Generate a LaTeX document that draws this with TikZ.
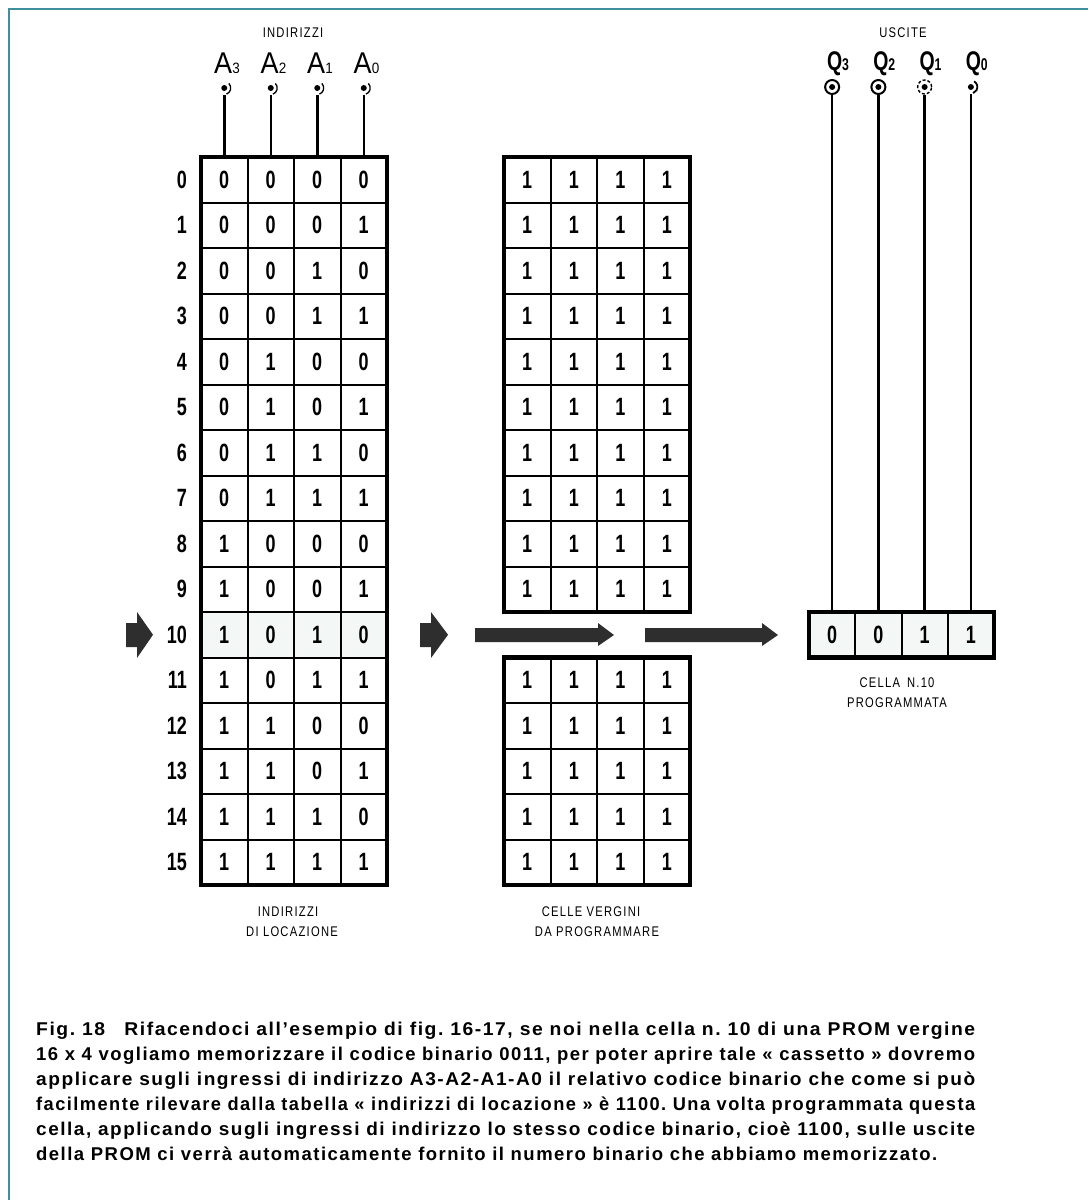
\documentclass[tikz,border=0pt]{standalone}
\usepackage{graphicx}
\usepackage{fontspec}
\setmainfont{Liberation Sans}
\newfontfamily\condfont[FakeStretch=0.72]{Liberation Sans}
\newfontfamily\afont[FakeStretch=0.9]{Liberation Sans}
\newfontfamily\thinfont[FakeStretch=0.8,LetterSpace=9]{Liberation Sans}
\newfontfamily\capfont[LetterSpace=8]{Liberation Sans}
\usetikzlibrary{calc}
\definecolor{framecol}{HTML}{3F8F9F}
\definecolor{arrowgray}{HTML}{2E2E2E}
\definecolor{tint}{HTML}{F3F8F6}
\newcommand{\capline}[1]{\resizebox{939pt}{\height}{#1}}
\begin{document}
\begin{tikzpicture}[x=1pt,y=-1pt,
  cell/.style={minimum width=46.5pt,minimum height=45.5pt,inner sep=0pt,
    font=\condfont\bfseries\fontsize{25}{25}\selectfont},
  rcell/.style={cell,minimum width=46.25pt},
  rowlab/.style={anchor=east,inner sep=0pt,font=\condfont\bfseries\fontsize{25}{25}\selectfont},
  thinlab/.style={align=center,inner sep=0pt,font=\thinfont\fontsize{14}{20}\selectfont},
  alab/.style={inner sep=0pt,font=\afont\fontsize{30}{30}\selectfont},
  qlab/.style={inner sep=0pt,font=\condfont\bfseries\fontsize{27}{27}\selectfont},
  grid/.style={line width=2pt},
  outer/.style={line width=4.5pt},
  wire/.style={line width=2.5pt},
  adot/.style={circle,fill,inner sep=0pt,minimum size=6pt},
  qterm/.style={circle,draw,line width=2pt,inner sep=0pt,minimum size=14pt},
  blk/.style={fill=arrowgray}
]
\useasboundingbox[fill=white] (0,0) rectangle (1088,1200);
\draw[framecol,line width=2pt] (9,1200) -- (9,9) -- (1088,9);

% ---------- left table (addresses) ----------
\fill[tint] (201,612) rectangle (387,657.5);
\foreach \r in {0,...,15}{
  \node[rowlab] (n\r) at (187,{179.75+45.5*\r}) {\r};
  \foreach \c in {0,...,3}{
    \pgfmathtruncatemacro\b{mod(floor(\r/2^(3-\c)),2)}
    \node[cell] (L-\r-\c) at ({224.25+46.5*\c},{179.75+45.5*\r}) {\b};
  }
}
\foreach \c in {1,2,3} \draw[grid] ({201+46.5*\c},157) -- ({201+46.5*\c},885);
\foreach \r in {1,...,15} \draw[grid] (201,{157+45.5*\r}) -- (387,{157+45.5*\r});
\draw[outer] (201,157) rectangle (387,885);

% ---------- middle table (blank cells) ----------
\foreach \r in {0,...,9,11,12,13,14,15}{
  \foreach \c in {0,...,3}{
    \node[cell] (M-\r-\c) at ({527.25+46.5*\c},{179.75+45.5*\r}) {1};
  }
}
\foreach \c in {1,2,3}{
  \draw[grid] ({504+46.5*\c},157) -- ({504+46.5*\c},612);
  \draw[grid] ({504+46.5*\c},657.5) -- ({504+46.5*\c},885);
}
\foreach \r in {1,...,9} \draw[grid] (504,{157+45.5*\r}) -- (690,{157+45.5*\r});
\foreach \r in {12,...,15} \draw[grid] (504,{157+45.5*\r}) -- (690,{157+45.5*\r});
\draw[outer] (504,157) rectangle (690,612);
\draw[outer] (504,657.5) rectangle (690,885);

% ---------- programmed cell ----------
\fill[tint] (809,612) rectangle (994,657.5);
\node[rcell] (R-0) at (832.125,634.75) {0};
\node[rcell] (R-1) at (878.375,634.75) {0};
\node[rcell] (R-2) at (924.625,634.75) {1};
\node[rcell] (R-3) at (970.875,634.75) {1};
\foreach \c in {1,2,3} \draw[grid] ({809+46.25*\c},612) -- ({809+46.25*\c},657.5);
\draw[outer] (809,612) rectangle (994,657.5);

% ---------- address inputs ----------
\node[thinlab] (tin) at (293,33) {INDIRIZZI};
\foreach \c/\n in {0/3,1/2,2/1,3/0}{
  \node[alab] (A\n) at ({227+46.5*\c},63) {A{\fontsize{15}{15}\selectfont\n}};
  \node[adot] (ta\n) at ({224.25+46.5*\c},88) {};
  \draw[line width=1.3pt] (ta\n.center) ++(-45:6.5) arc[start angle=-45,end angle=70,radius=6.5];
  \draw[wire,shorten <=4pt] (ta\n) -- (L-0-\c.north);
}

% ---------- outputs ----------
\node[thinlab] (tout) at (903,33) {USCITE};
\foreach \c/\n in {0/3,1/2,2/1,3/0}{
  \node[qlab] (Q\n) at ({838+46.25*\c},64) {Q{\fontsize{17}{17}\selectfont\n}};
  \node[adot] (dq\n) at ({832.125+46.25*\c},87) {};
}
\node[qterm] (tq3) at (832.125,87) {};
\node[qterm] (tq2) at (878.375,87) {};
\node[qterm,densely dashed,line width=1.4pt] (tq1) at (924.625,87) {};
\node[circle,inner sep=0pt,minimum size=14pt] (tq0) at (970.875,87) {};
\draw[line width=1.8pt] (tq0.center) ++(-60:6.5) arc[start angle=-60,end angle=70,radius=6.5];
\draw[wire] (tq3) -- (R-0.north);
\draw[wire] (tq2) -- (R-1.north);
\draw[wire] (tq1) -- (R-2.north);
\draw[wire] (tq0) -- (R-3.north);

% ---------- arrows ----------
\fill[blk] (126,623) -- (137,623) -- (137,612) -- (153,634.75) -- (137,658) -- (137,647) -- (126,647) -- cycle;
\fill[blk] (420,623) -- (431,623) -- (431,612) -- (448,634.75) -- (431,658) -- (431,647) -- (420,647) -- cycle;
\fill[blk] (475,628) -- (598,628) -- (598,623) -- (614,635) -- (598,646) -- (598,642) -- (475,642) -- cycle;
\fill[blk] (645,628) -- (762,628) -- (762,623) -- (778,635) -- (762,646) -- (762,642) -- (645,642) -- cycle;

% ---------- captions under tables ----------
\node[thinlab] (capL) at (292,922) {INDIRIZZI\hspace*{8pt}\\DI LOCAZIONE};
\node[thinlab] (capM) at (597,922) {CELLE VERGINI\hspace*{12pt}\\DA PROGRAMMARE};
\node[thinlab] (capR) at (897,693) {CELLA\enspace N.10\\PROGRAMMATA};

% ---------- figure caption ----------
\node[anchor=north west,align=left,inner sep=0pt,
  font=\capfont\bfseries\fontsize{18.5}{25}\selectfont\frenchspacing] (caption) at (36,1022)
{\capline{Fig. 18\quad Rifacendoci all’esempio di fig. 16-17, se noi nella cella n. 10 di una PROM vergine}\\
\capline{16 x 4 vogliamo memorizzare il codice binario 0011, per poter aprire tale « cassetto » dovremo}\\
\capline{applicare sugli ingressi di indirizzo A3-A2-A1-A0 il relativo codice binario che come si può}\\
\capline{facilmente rilevare dalla tabella « indirizzi di locazione » è 1100. Una volta programmata questa}\\
\capline{cella, applicando sugli ingressi di indirizzo lo stesso codice binario, cioè 1100, sulle uscite}\\
della PROM ci verrà automaticamente fornito il numero binario che abbiamo memorizzato.};
\end{tikzpicture}
\end{document}
